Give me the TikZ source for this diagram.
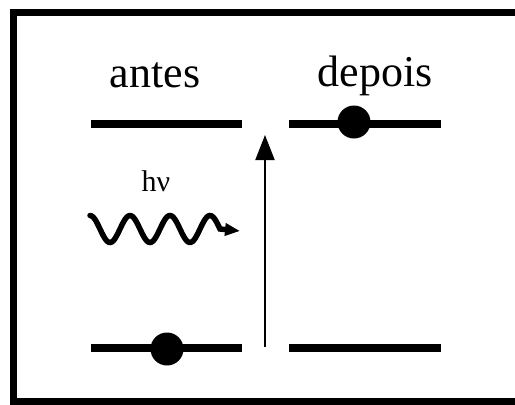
\documentclass[tikz,border=0pt]{standalone}
\usepackage{fontspec}
\setmainfont{Liberation Serif}
\usetikzlibrary{arrows.meta}
\tikzset{
level/.style={line width=8pt},
electron/.style={circle, fill=black, inner sep=0pt, minimum size=33pt},
title/.style={font=\fontsize{44}{48}\selectfont, anchor=base},
photon/.style={line width=5.5pt, line cap=round, -{Triangle[length=15pt,width=12pt]}},
jump/.style={line width=2pt, -{Triangle[length=25pt,width=19pt]}}
}
\begin{document}
\begin{tikzpicture}[x=1pt,y=-1pt]
\useasboundingbox (0,0) rectangle (515,405);
\draw[line width=7pt] (515,12) -- (13.5,12) -- (13.5,401.5) -- (515,401.5);

% levels, before and after
\coordinate (A1) at (91,124);  \coordinate (A2) at (242,124);
\coordinate (B1) at (91,348);  \coordinate (B2) at (242,348);
\coordinate (C1) at (289,124); \coordinate (C2) at (441,124);
\coordinate (D1) at (289,348); \coordinate (D2) at (441,348);
\draw[level] (A1) -- (A2);
\draw[level] (B1) -- (B2);
\draw[level] (C1) -- (C2);
\draw[level] (D1) -- (D2);

\node[electron] (e1) at (167,349) {};
\node[electron] (e2) at (354,122) {};

\node[title] (antes) at (155,87) {antes};
\node[title] (depois) at (375,86) {depois};

% photon
\node[font=\fontsize{30}{34}\selectfont, anchor=base] (hv) at (156,191) {hν};
\coordinate (tip) at (240,231);
\draw[photon] plot[domain=90:220, samples=90, smooth] (\x, {229-13.5*cos(9*(\x-90))}) -- (tip);

% transition
\coordinate (low) at (265,347);
\coordinate (high) at (265,135);
\draw[jump] (low) -- (high);
\end{tikzpicture}
\end{document}
